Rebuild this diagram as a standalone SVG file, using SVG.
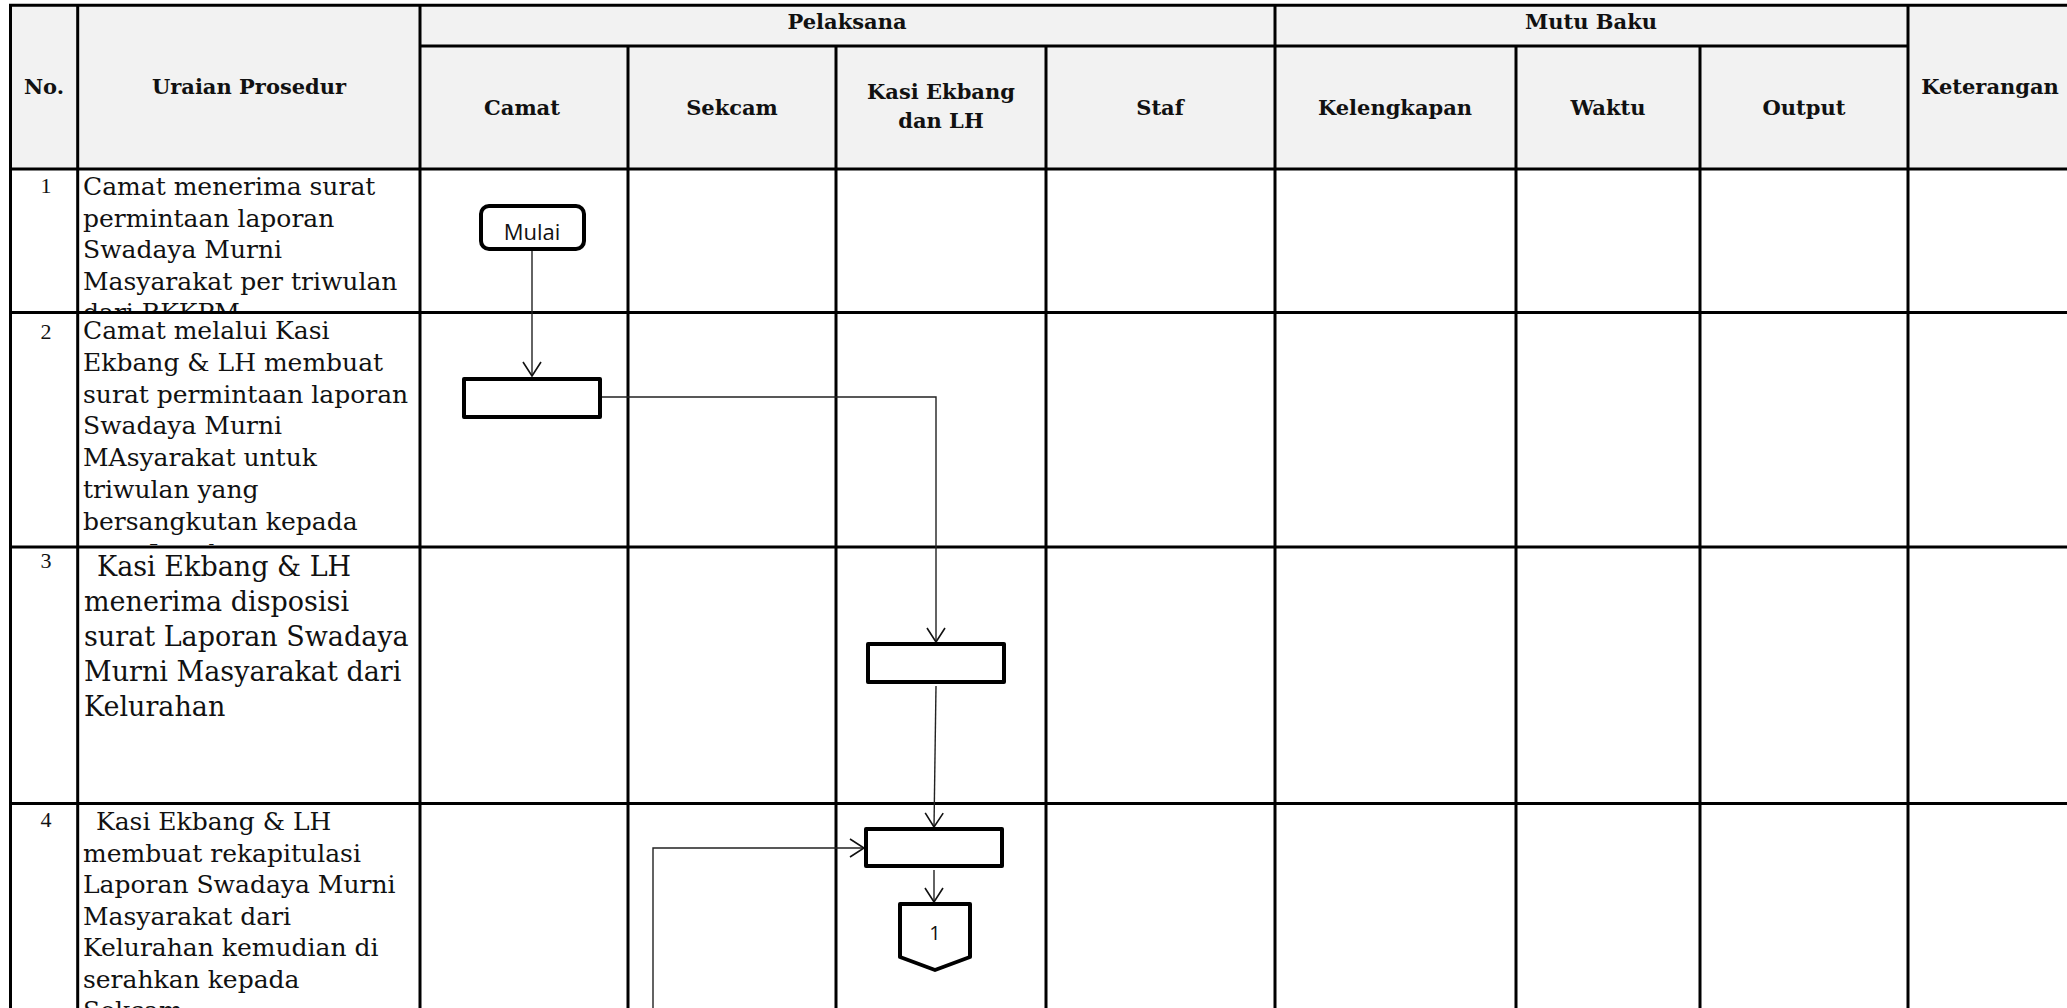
<svg xmlns="http://www.w3.org/2000/svg" width="2067" height="1008" viewBox="0 0 2067 1008">
<style>
.grid{stroke:#000;stroke-width:3;fill:none}
.hd{font-family:"DejaVu Serif","Liberation Serif",serif;font-weight:bold;font-size:21px;fill:#111;text-anchor:middle}
.tx{font-family:"DejaVu Serif","Liberation Serif",serif;font-size:25px;fill:#111}
.tx3{font-family:"DejaVu Serif","Liberation Serif",serif;font-size:27px;fill:#111}
.num{font-family:"Liberation Serif","DejaVu Serif",serif;font-size:22px;fill:#111;text-anchor:middle}
.shape{fill:#fff;stroke:#000;stroke-width:4;stroke-linejoin:round}
.lbl{font-family:"Open Sans","Noto Sans",sans-serif;font-size:22px;fill:#111;text-anchor:middle}
.conn{fill:none;stroke:#222;stroke-width:1.4}
</style>
<defs>
<marker id="arr" markerUnits="userSpaceOnUse" markerWidth="18" markerHeight="22" viewBox="0 0 18 22" refX="16" refY="11" orient="auto">
<path d="M2,2 L16,11 L2,20" fill="none" stroke="#111" stroke-width="1.6"/>
</marker>
<clipPath id="c1"><rect x="79" y="170" width="340" height="141"/></clipPath>
<clipPath id="c2"><rect x="79" y="314" width="340" height="231"/></clipPath>
</defs>
<rect x="0" y="0" width="2067" height="1008" fill="#fff"/>
<rect x="10" y="5" width="2057" height="164" fill="#f2f2f2"/>

<g id="table">
<path class="grid" d="M9,5.3 H2067 M419.5,46 H1908 M9,169 H2067 M9,312.5 H2067 M9,547 H2067 M9,803.5 H2067"/>
<path class="grid" d="M10.5,4 V1008 M77.7,4 V1008 M420,4 V1008 M628,46 V1008 M836,46 V1008 M1046,46 V1008 M1275,4 V1008 M1516,46 V1008 M1700,46 V1008 M1908,4 V1008"/>
</g>

<g id="headers">
<text class="hd" x="44" y="94">No.</text>
<text class="hd" x="249" y="94">Uraian Prosedur</text>
<text class="hd" x="847" y="29">Pelaksana</text>
<text class="hd" x="1591" y="29">Mutu Baku</text>
<text class="hd" x="522" y="115">Camat</text>
<text class="hd" x="732" y="115">Sekcam</text>
<text class="hd" x="941" y="99">Kasi Ekbang</text>
<text class="hd" x="941" y="128">dan LH</text>
<text class="hd" x="1160" y="115">Staf</text>
<text class="hd" x="1395" y="115">Kelengkapan</text>
<text class="hd" x="1608" y="115">Waktu</text>
<text class="hd" x="1804" y="115">Output</text>
<text class="hd" x="1990" y="94">Keterangan</text>
</g>

<g id="row1">
<text class="num" x="46" y="193">1</text>
<g clip-path="url(#c1)">
<text class="tx" x="83" y="195">Camat menerima surat</text>
<text class="tx" x="83" y="227">permintaan laporan</text>
<text class="tx" x="83" y="258">Swadaya Murni</text>
<text class="tx" x="83" y="290">Masyarakat per triwulan</text>
<text class="tx" x="83" y="321">dari BKKPM</text>
</g>
</g>

<g id="row2">
<text class="num" x="46" y="339">2</text>
<g clip-path="url(#c2)">
<text class="tx" x="83" y="339">Camat melalui Kasi</text>
<text class="tx" x="83" y="371">Ekbang &amp; LH membuat</text>
<text class="tx" x="83" y="403">surat permintaan laporan</text>
<text class="tx" x="83" y="434">Swadaya Murni</text>
<text class="tx" x="83" y="466">MAsyarakat untuk</text>
<text class="tx" x="83" y="498">triwulan yang</text>
<text class="tx" x="83" y="530">bersangkutan kepada</text>
<text class="tx" x="83" y="562">para Lurah</text>
</g>
</g>

<g id="row3">
<text class="num" x="46" y="568">3</text>
<text class="tx3" x="97" y="576">Kasi Ekbang &amp; LH</text>
<text class="tx3" x="84" y="611">menerima disposisi</text>
<text class="tx3" x="84" y="646">surat Laporan Swadaya</text>
<text class="tx3" x="84" y="681">Murni Masyarakat dari</text>
<text class="tx3" x="84" y="716">Kelurahan</text>
</g>

<g id="row4">
<text class="num" x="46" y="827">4</text>
<text class="tx" x="96" y="830">Kasi Ekbang &amp; LH</text>
<text class="tx" x="83" y="862">membuat rekapitulasi</text>
<text class="tx" x="83" y="893">Laporan Swadaya Murni</text>
<text class="tx" x="83" y="925">Masyarakat dari</text>
<text class="tx" x="83" y="956">Kelurahan kemudian di</text>
<text class="tx" x="83" y="988">serahkan kepada</text>
<text class="tx" x="83" y="1019">Sekcam</text>
</g>

<g id="connectors">
<path class="conn" d="M532,251 V376" marker-end="url(#arr)"/>
<path class="conn" d="M602,397 H936 V642" marker-end="url(#arr)"/>
<path class="conn" d="M936,686 L934,827" marker-end="url(#arr)"/>
<path class="conn" d="M934,870 V902" marker-end="url(#arr)"/>
<path class="conn" d="M653,1008 V848 H864" marker-end="url(#arr)"/>
</g>

<g id="n-mulai">
<rect class="shape" x="481" y="206" width="103" height="43" rx="8"/>
<text class="lbl" x="532" y="240">Mulai</text>
</g>
<g id="n-step2">
<rect class="shape" x="464" y="379" width="136" height="38"/>
</g>
<g id="n-step3">
<rect class="shape" x="868" y="644" width="136" height="38"/>
</g>
<g id="n-step4">
<rect class="shape" x="866" y="829" width="136" height="37"/>
</g>
<g id="n-offpage1">
<path class="shape" d="M900,904 H970 V957 L935,970 L900,957 Z"/>
<text class="lbl" x="935" y="940" style="font-size:20px">1</text>
</g>
</svg>
